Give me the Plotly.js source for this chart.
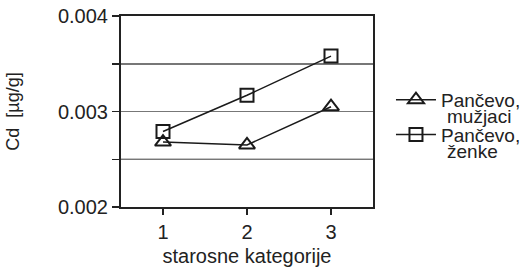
<!DOCTYPE html>
<html>
<head>
<meta charset="utf-8">
<script src="https://cdn.plot.ly/plotly-3.0.1.min.js"></script>
<style>html,body{margin:0;padding:0;background:#fff;}#chart{width:526px;height:267px;}</style>
</head>
<body>
<div id="chart"></div>
<script>
var categories = [1, 2, 3];
var muzjaci = [0.00268, 0.00265, 0.00305];
var zenke = [0.00279, 0.00317, 0.00358];
var seriesNames = ['Pančevo,', 'Pančevo,'];
var seriesSubNames = ['mužjaci', 'ženke'];
var yTickVals = [0.002, 0.003, 0.004];
var yTickText = ['0.002', '0.003', '0.004'];

var fam = 'Liberation Sans, Arial, sans-serif';
var ink = '#222';

var traces = [
  {x: categories, y: muzjaci, name: seriesNames[0], legendgroup: 'a', type: 'scatter', mode: 'lines+markers',
   line: {color: '#1a1a1a', width: 1.5},
   marker: {symbol: 'triangle-up-open', size: 14, color: '#1a1a1a', line: {width: 2, color: '#1a1a1a'}}},
  {x: categories, y: zenke, name: seriesNames[1], legendgroup: 'b', type: 'scatter', mode: 'lines+markers',
   line: {color: '#1a1a1a', width: 1.5},
   marker: {symbol: 'square-open', size: 13, color: '#1a1a1a', line: {width: 2, color: '#1a1a1a'}}}
];

var layout = {
  width: 526, height: 267,
  margin: {l: 121, r: 153, t: 16, b: 60, pad: 0, autoexpand: false},
  paper_bgcolor: '#fff', plot_bgcolor: '#fff',
  font: {family: fam, size: 19, color: ink},
  showlegend: true,
  legend: {xref: 'container', yref: 'container', x: 0.7433, xanchor: 'left', y: 0.697, yanchor: 'top', valign: 'middle',
           itemwidth: 40, tracegroupgap: 7,
           font: {family: fam, size: 19, color: ink}, bgcolor: 'rgba(0,0,0,0)'},
  xaxis: {range: [0.5, 3.5], tickvals: categories, ticktext: ['1', '2', '3'],
          showgrid: false, zeroline: false, automargin: false,
          showline: true, linecolor: ink, linewidth: 2, mirror: true,
          ticks: 'outside', ticklen: 6, tickwidth: 1.5, tickcolor: ink,
          tickfont: {family: fam, size: 20, color: ink},
          title: {text: 'starosne kategorije', font: {family: fam, size: 20, color: ink}, standoff: 8}},
  yaxis: {range: [0.002, 0.004], tickvals: yTickVals, ticktext: yTickText,
          showgrid: true, gridcolor: '#777', gridwidth: 1.5, zeroline: false, automargin: false,
          showline: true, linecolor: ink, linewidth: 2, mirror: true,
          ticks: 'outside', ticklen: 7, tickwidth: 1.5, tickcolor: ink,
          tickfont: {family: fam, size: 20, color: ink},
          minor: {dtick: 0.0005, showgrid: true, gridcolor: '#777', gridwidth: 1.5, ticks: 'outside', ticklen: 7, tickwidth: 1.5, tickcolor: ink},
          title: {text: 'Cd\u00a0\u00a0[µg/g]', font: {family: fam, size: 18, color: ink}, standoff: 34}},
  annotations: [
    {text: seriesSubNames[0], xref: 'paper', yref: 'paper', x: 1.2857, y: 0.476, xanchor: 'left', yanchor: 'middle', showarrow: false, font: {family: fam, size: 19, color: ink}},
    {text: seriesSubNames[1], xref: 'paper', yref: 'paper', x: 1.2857, y: 0.293, xanchor: 'left', yanchor: 'middle', showarrow: false, font: {family: fam, size: 19, color: ink}}
  ],
  shapes: [
    {type: 'line', xref: 'paper', x0: 0, x1: 1, yref: 'y', y0: 0.0025, y1: 0.0025, layer: 'between', line: {color: '#111', width: 1.2}}
  ]
};

Plotly.newPlot('chart', traces, layout, {displayModeBar: false, staticPlot: true});
</script>
</body>
</html>
